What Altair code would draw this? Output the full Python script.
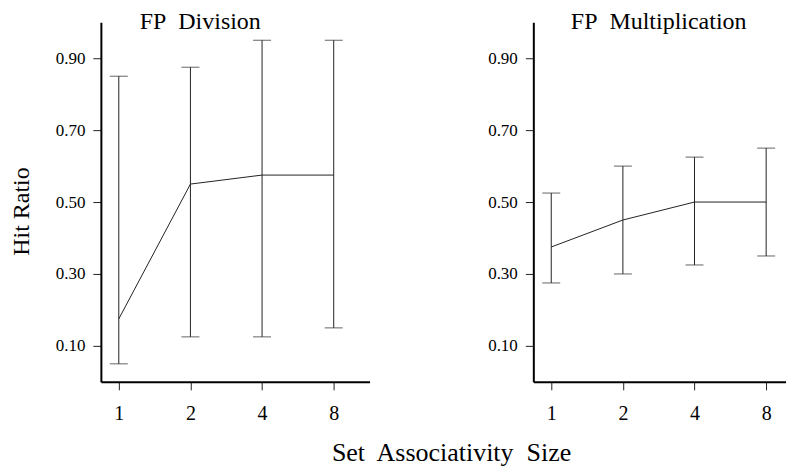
import altair as alt
import pandas as pd

sizes = [1, 2, 4, 8]
div_mean = [0.175, 0.55, 0.575, 0.575]
div_low = [0.05, 0.125, 0.125, 0.15]
div_high = [0.85, 0.875, 0.95, 0.95]
mul_mean = [0.375, 0.45, 0.50, 0.50]
mul_low = [0.275, 0.30, 0.325, 0.35]
mul_high = [0.525, 0.60, 0.625, 0.65]
y_ticks = [0.1, 0.3, 0.5, 0.7, 0.9]

FONT = "Liberation Serif"
INK = "#222222"


def panel(title, mean, low, high, width, xmax, dx, show_ytitle):
    df = pd.DataFrame({"assoc": sizes, "mean": mean, "low": low, "high": high})
    xscale = alt.Scale(type="log", base=2, domain=[2 ** -0.25, xmax], nice=False)
    xaxis = alt.Axis(values=sizes, format="d", title=None, labelFontSize=20,
                     labelPadding=14, tickSize=8)
    yaxis_kw = dict(values=y_ticks, format=".2f", labelFontSize=17, tickSize=8,
                    labelPadding=8)
    if show_ytitle:
        yaxis_kw.update(title="Hit Ratio", titleFontSize=24, titlePadding=22, titleY=189)
    else:
        yaxis_kw.update(title=None)
    x = alt.X("assoc:Q", scale=xscale, axis=xaxis)
    y = alt.Y("mean:Q", scale=alt.Scale(domain=[0, 1], nice=False), axis=alt.Axis(**yaxis_kw))
    base = alt.Chart(df)
    line = base.mark_line(color=INK, strokeWidth=1).encode(x=x, y=y)
    rule = base.mark_rule(color=INK, strokeWidth=1).encode(
        x="assoc:Q", y="low:Q", y2="high:Q")
    cap_lo = base.mark_tick(orient="horizontal", size=18, thickness=1, color=INK).encode(
        x="assoc:Q", y="low:Q")
    cap_hi = base.mark_tick(orient="horizontal", size=18, thickness=1, color=INK).encode(
        x="assoc:Q", y="high:Q")
    return alt.layer(line, rule, cap_lo, cap_hi).properties(
        width=width, height=360,
        title=alt.TitleParams(title, dx=dx, fontSize=24, font=FONT,
                              fontWeight="normal", anchor="middle", offset=-12),
    )


left = panel("FP\u00a0 Division", div_mean, div_low, div_high, 269, 2 ** 3.5, -35, True)
right = panel("FP\u00a0 Multiplication", mul_mean, mul_low, mul_high, 253, 2 ** 3.277, -1, False)

chart = alt.hconcat(left, right, spacing=118).properties(
    padding={"left": 1, "top": 2, "right": 0, "bottom": 0},
    title=alt.TitleParams("Set\u00a0 Associativity\u00a0 Size", orient="bottom",
                          anchor="middle", fontSize=26, font=FONT,
                          fontWeight="normal", offset=16, dx=54),
).configure_view(stroke=None).configure_axis(
    grid=False, domainColor="black", domainWidth=2, tickColor=INK, tickWidth=1,
    labelFont=FONT, titleFont=FONT, labelColor="black", titleColor="black",
    titleFontWeight="normal",
).configure_title(color="black")

chart.save("out.html", embed_options={"renderer": "svg", "actions": False})
